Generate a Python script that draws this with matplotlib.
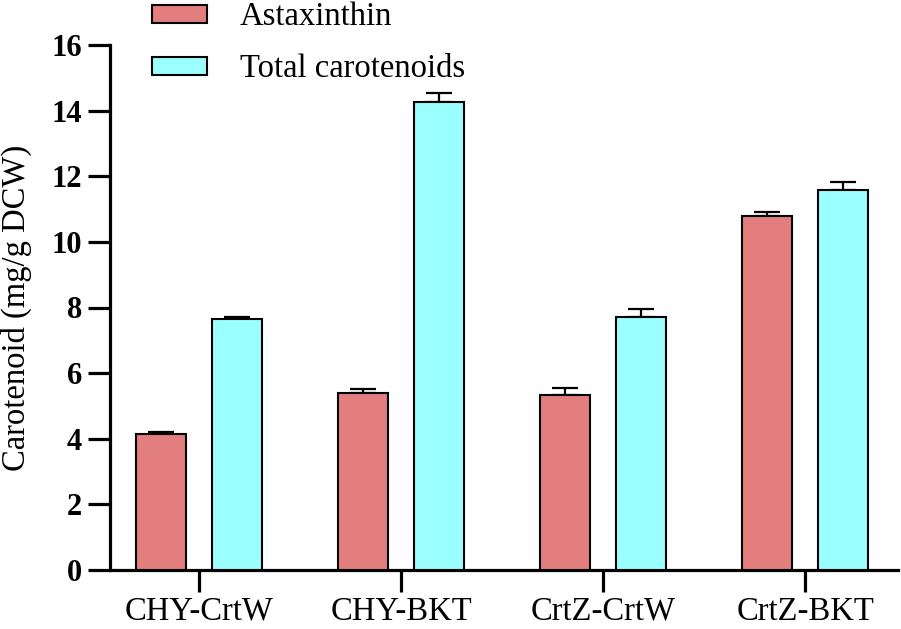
import matplotlib
matplotlib.use("Agg")
import matplotlib.pyplot as plt
import numpy as np

categories = ["CHY-CrtW", "CHY-BKT", "CrtZ-CrtW", "CrtZ-BKT"]
astaxanthin = [4.15, 5.39, 5.32, 10.79]
astaxanthin_err = [0.06, 0.13, 0.23, 0.12]
total_carotenoids = [7.64, 14.27, 7.72, 11.58]
total_err = [0.07, 0.27, 0.23, 0.26]
series_labels = ["Astaxinthin", "Total carotenoids"]
yticks = [0, 2, 4, 6, 8, 10, 12, 14, 16]

plt.rcParams['font.family'] = ['Liberation Serif', 'DejaVu Serif']

fig = plt.figure(figsize=(9.01, 6.29), dpi=100)
ax = fig.add_axes([110/901, 59/629, 788/901, 525/629])

x = np.arange(len(categories))
w = 0.247
off = 0.188
red = '#E37E7E'
cyan = '#9BFFFF'
b1 = ax.bar(x - off, astaxanthin, w, color=red, edgecolor='black', linewidth=1.5, zorder=3,
            label=series_labels[0])
b2 = ax.bar(x + off, total_carotenoids, w, color=cyan, edgecolor='black', linewidth=1.5, zorder=3,
            label=series_labels[1])
zeros = [0]*4
ax.errorbar(x - off, astaxanthin, yerr=[zeros, astaxanthin_err], fmt='none', ecolor='black',
            elinewidth=1.6, capsize=9.4, capthick=1.6, zorder=2)
ax.errorbar(x + off, total_carotenoids, yerr=[zeros, total_err], fmt='none', ecolor='black',
            elinewidth=1.6, capsize=9.4, capthick=1.6, zorder=2)

ax.set_xlim(-0.44, 3.46)
ax.set_ylim(0, 16)
ax.set_yticks(yticks)
ax.set_yticklabels([str(t) for t in yticks], fontweight='bold', fontsize=22)
ax.set_xticks(x)
ax.set_xticklabels(categories, fontsize=23.5)
for s in ['top', 'right']:
    ax.spines[s].set_visible(False)
for s in ['left', 'bottom']:
    ax.spines[s].set_linewidth(2.3)
ax.tick_params(axis='both', length=16, width=2.3, direction='out')
ax.tick_params(axis='y', pad=4)
ax.tick_params(axis='x', pad=3)
ax.set_ylabel("Carotenoid (mg/g DCW)", fontsize=23.5)
ax.yaxis.set_label_coords(-0.099, 0.5)

leg = fig.legend(handles=[b1, b2], loc='upper left', bbox_to_anchor=(152/901, 0.997),
                 frameon=False, fontsize=23.5, handlelength=1.69, handleheight=0.49,
                 handletextpad=1.01, labelspacing=0.66, borderaxespad=0, borderpad=0.0)

fig.savefig("out.png", dpi=100)
